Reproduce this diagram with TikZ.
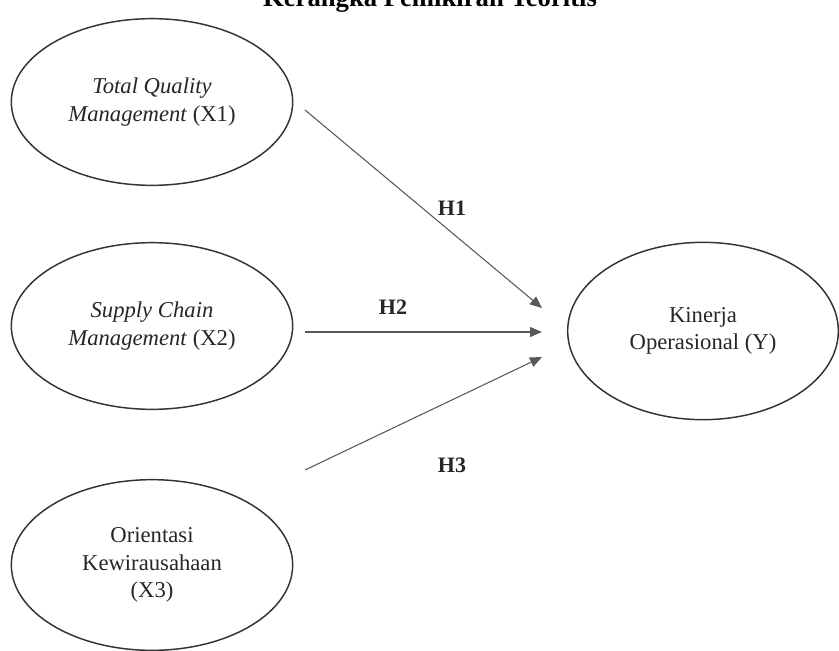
\documentclass[tikz,border=0pt]{standalone}
\usepackage{fontspec}
\setmainfont{Liberation Serif}
\usetikzlibrary{shapes.geometric,arrows.meta}
\tikzset{
  var/.style={ellipse, draw=black!80, line width=1.1pt, inner sep=0pt,
    minimum width=211pt, minimum height=125pt, align=center,
    font=\fontsize{17}{20.5}\selectfont, text=black!85},
  yvar/.style={var, minimum width=203pt, minimum height=133pt},
  link/.style={draw=black!65, line width=0.8pt, -{Triangle[length=9pt,width=7.5pt]}},
  hlab/.style={font=\fontsize{16.5}{20}\selectfont\bfseries, text=black!85},
}
\begin{document}
\begin{tikzpicture}[x=0.75pt,y=-0.75pt]
\useasboundingbox (0,0) rectangle (839,650);
\node[font=\fontsize{20}{24}\selectfont\bfseries, anchor=base] (title) at (430,6) {Kerangka Pemikiran Teoritis};
\node[var] (x1) at (152,102) {\textit{Total Quality}\\\textit{Management} (X1)};
\node[var] (x2) at (152,326) {\textit{Supply Chain}\\\textit{Management} (X2)};
\node[var, minimum height=128pt] (x3) at (152,565) {Orientasi\\Kewirausahaan\\(X3)};
\node[yvar] (y) at (703,331) {Kinerja\\Operasional (Y)};
\coordinate (s1) at (305,110);
\coordinate (e1) at (542,308);
\coordinate (s2) at (305,332);
\coordinate (e2) at (542,332);
\coordinate (s3) at (305,470);
\coordinate (e3) at (542,357);
\draw[link] (s1) -- (e1);
\draw[link] (s2) -- (e2);
\draw[link] (s3) -- (e3);
\node[hlab] (h1) at (452,208) {H1};
\node[hlab] (h2) at (393,307) {H2};
\node[hlab] (h3) at (452,465) {H3};
\end{tikzpicture}
\end{document}
